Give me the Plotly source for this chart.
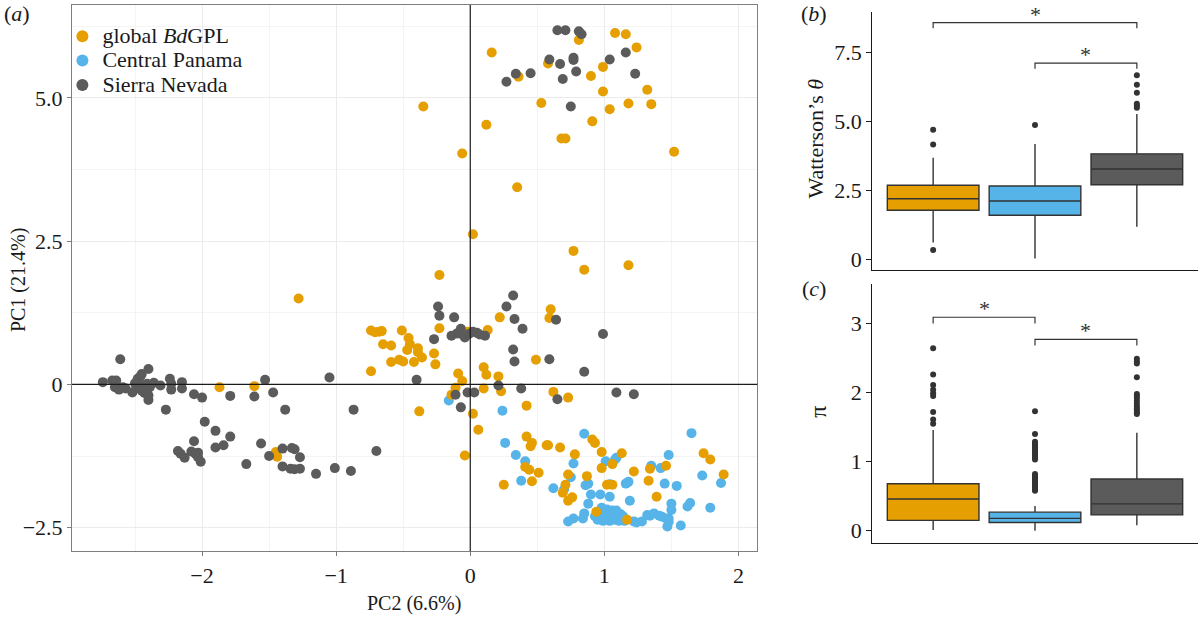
import plotly.graph_objects as go

FONT = "Liberation Serif"
ORANGE = "#E69F00"
BLUE = "#56B4E9"
GRAY = "#5B5B5B"
DARK = "#333333"

group_names = ["global <i>Bd</i>GPL", "Central Panama", "Sierra Nevada"]
group_colors = [ORANGE, BLUE, GRAY]

# ---- Panel (a): PCA scores, (PC2, PC1) pairs ----
global_pts = [
    (1.08, 6.13), (1.16, 6.11), (0.81, 6.01), (1.24, 5.88), (0.16, 5.79), (0.58, 5.60),
    (0.36, 5.37), (0.99, 5.54), (0.90, 5.38), (0.99, 5.11), (1.32, 5.14), (0.53, 4.91),
    (1.18, 4.90), (1.35, 4.89), (1.04, 4.80), (0.91, 4.59), (0.12, 4.53), (0.68, 4.29),
    (0.71, 4.29), (-0.06, 4.03), (1.52, 4.06), (0.35, 3.44), (-0.35, 4.85),
    (0.02, 2.62), (0.77, 2.33), (0.85, 2.00), (1.18, 2.08), (-0.23, 1.91), (-1.28, 1.50),
    (0.60, 1.31), (0.59, 1.16), (0.22, 1.17), (-0.23, 0.98), (0.13, 0.95), (-0.02, 0.92),
    (-0.74, 0.94), (-0.71, 0.91), (-0.68, 0.92), (-0.66, 0.93), (-0.51, 0.94), (-0.46, 0.81),
    (-0.65, 0.70), (-0.59, 0.68), (-0.45, 0.70), (-0.39, 0.63), (-0.47, 0.60), (-0.39, 0.56),
    (-0.36, 0.47), (-0.27, 0.54), (-0.53, 0.43), (-0.50, 0.40), (-0.59, 0.39), (-0.42, 0.39),
    (-0.26, 0.35), (-0.74, 0.23), (0.49, 0.43), (0.10, 0.30), (0.12, 0.17), (0.21, 0.14),
    (-0.09, 0.19), (-0.06, 0.06), (-0.11, -0.06), (-0.14, -0.18), (0.10, -0.07), (0.23, -0.12),
    (0.62, -0.13), (0.73, -0.23), (0.42, -0.37), (-0.38, -0.47), (0.02, -0.51), (-1.87, -0.05),
    (-1.61, -0.03), (-1.45, -1.18), (-1.44, -1.26),
    (0.06, -0.79), (-0.04, -1.24), (0.42, -0.91), (0.46, -1.02), (0.45, -1.08), (0.57, -1.06),
    (0.58, -1.06), (0.67, -1.10), (0.78, -1.22), (0.91, -0.96), (0.93, -1.02), (0.98, -1.18),
    (1.13, -1.20), (1.06, -1.39), (0.98, -1.46), (0.41, -1.44), (0.44, -1.49), (0.51, -1.54),
    (0.46, -1.69), (0.25, -1.75), (0.73, -1.57), (0.71, -1.75), (0.69, -1.89), (0.73, -2.03),
    (0.76, -1.97), (0.87, -1.60), (1.02, -1.75), (1.06, -1.75), (1.22, -1.52), (1.34, -1.47),
    (1.46, -1.42), (1.33, -1.68), (1.39, -1.96), (1.74, -1.20), (1.79, -1.31), (1.89, -1.57),
    (0.94, -2.22), (1.17, -2.36),
]

panama_pts = [
    (-0.16, -0.28), (0.24, -0.46), (0.26, -1.02), (0.34, -1.23), (0.41, -1.34), (0.38, -1.68),
    (0.85, -0.86), (0.77, -1.38), (0.75, -1.62), (0.62, -1.81), (0.70, -1.83), (0.86, -1.76),
    (0.88, -1.73), (0.90, -1.92), (0.97, -1.92), (1.04, -1.96), (1.04, -1.74), (0.88, -2.08),
    (1.01, -1.34), (1.09, -1.28), (1.08, -1.31), (1.16, -1.73), (1.18, -1.70), (1.19, -2.03),
    (1.35, -1.42), (1.42, -1.46), (1.48, -1.23), (1.45, -1.73), (1.54, -1.77), (1.65, -0.85),
    (1.73, -1.59), (1.87, -1.72), (1.79, -2.15), (1.50, -2.08), (1.50, -2.19), (1.62, -2.13),
    (1.64, -2.07), (1.57, -2.46), (1.47, -2.48), (1.48, -2.40), (1.48, -2.34), (0.73, -2.39),
    (0.77, -2.34), (0.85, -2.25), (0.84, -2.34), (1.22, -2.39), (1.24, -2.41), (1.28, -2.39),
    (1.32, -2.28), (1.34, -2.29), (1.37, -2.25), (1.41, -2.29), (1.43, -2.31), (1.46, -2.34),
    (0.93, -2.30), (0.95, -2.36), (0.96, -2.22), (0.97, -2.33), (0.98, -2.15), (0.99, -2.38),
    (1.00, -2.26), (1.01, -2.34), (1.02, -2.18), (1.03, -2.30), (1.04, -2.38), (1.05, -2.24),
    (1.06, -2.33), (1.07, -2.27), (1.08, -2.36), (1.09, -2.20), (1.10, -2.31), (1.11, -2.38),
    (1.12, -2.26), (1.13, -2.33), (1.14, -2.30), (1.15, -2.38), (0.97, -2.28), (1.00, -2.20),
    (1.03, -2.24), (1.06, -2.20), (1.09, -2.28), (1.12, -2.35), (1.00, -2.32), (1.05, -2.36),
]

sierra_pts = [
    (0.65, 6.18), (0.71, 6.18), (0.81, 6.16), (0.83, 6.11), (0.59, 5.67), (0.67, 5.59),
    (0.77, 5.70), (0.77, 5.66), (1.04, 5.67), (1.16, 5.79), (0.34, 5.42), (0.27, 5.28),
    (0.45, 5.43), (0.69, 5.33), (0.79, 5.46), (1.23, 5.42), (0.75, 4.85),
    (0.32, 1.55), (0.27, 1.36), (-0.24, 1.36), (-0.23, 1.20), (-0.12, 1.17), (0.33, 1.14),
    (0.64, 1.13), (0.39, 0.97), (0.99, 0.88), (-0.14, 0.85), (-0.10, 0.89), (-0.07, 0.97),
    (-0.08, 0.89), (-0.04, 0.82), (-0.01, 0.88), (0.02, 0.92), (0.05, 0.90), (0.07, 0.87),
    (0.11, 0.85), (-0.27, 0.79), (0.32, 0.61), (0.33, 0.40), (0.59, 0.44), (0.85, 0.22),
    (-0.40, 0.08), (0.21, -0.02), (0.38, -0.07), (-0.02, -0.14), (0.03, -0.14), (-0.11, -0.18),
    (1.09, -0.14), (1.22, -0.17), (0.65, -0.26), (-0.87, -0.44), (-0.07, -0.40),
    (-2.61, 0.44), (-2.74, 0.04), (-2.67, 0.07), (-2.64, 0.07), (-2.65, -0.05), (-2.62, -0.09),
    (-2.59, -0.05), (-2.57, -0.07), (-2.52, -0.14), (-2.50, 0.02), (-2.48, 0.10), (-2.45, 0.18),
    (-2.46, 0.14), (-2.40, 0.27), (-2.49, -0.05), (-2.46, -0.08), (-2.44, -0.02), (-2.41, 0.01),
    (-2.39, -0.05), (-2.36, 0.03), (-2.43, -0.15), (-2.40, -0.19), (-2.40, -0.27), (-2.45, -0.11),
    (-2.41, -0.11), (-2.31, -0.02), (-2.24, 0.10), (-2.23, 0.01), (-2.23, -0.09), (-2.15, 0.04),
    (-2.15, -0.07), (-2.27, -0.44), (-2.06, -0.17), (-2.00, -0.23), (-1.79, -0.20), (-1.61, -0.21),
    (-1.53, 0.08), (-1.47, -0.14), (-1.38, -0.44), (-1.05, 0.12), (-1.98, -0.65), (-1.90, -0.81),
    (-1.79, -0.91), (-1.90, -1.10), (-1.84, -1.06), (-2.06, -0.99), (-2.18, -1.16), (-2.16, -1.21),
    (-2.13, -1.28), (-2.08, -1.17), (-2.05, -1.21), (-2.03, -1.19), (-2.03, -1.27), (-2.01, -1.35),
    (-1.67, -1.39), (-1.56, -1.03), (-1.50, -1.25), (-1.40, -1.12), (-1.33, -1.11), (-1.31, -1.13),
    (-1.27, -1.27), (-1.40, -1.43), (-1.34, -1.47), (-1.31, -1.48), (-1.27, -1.47), (-1.15, -1.56),
    (-1.01, -1.46), (-0.89, -1.51), (-0.70, -1.16),
]

# ---- Panel (b): Watterson's theta box statistics ----
theta_q1 = [1.77, 1.59, 2.70]
theta_med = [2.19, 2.11, 3.27]
theta_q3 = [2.68, 2.65, 3.82]
theta_lo = [0.60, 0.02, 1.17]
theta_hi = [3.68, 4.18, 5.27]
theta_out = [[4.69, 4.16, 0.33], [4.87], [6.67, 6.33, 6.04, 5.64, 5.57, 5.49]]
theta_brackets = [(0, 2, 8.38, 8.58), (1, 2, 6.91, 7.11)]

# ---- Panel (c): pi box statistics ----
pi_q1 = [0.15, 0.12, 0.23]
pi_med = [0.46, 0.18, 0.39]
pi_q3 = [0.68, 0.27, 0.75]
pi_lo = [0.01, 0.0, 0.08]
pi_hi = [1.46, 0.36, 1.42]
pi_out = [
    [2.64, 2.26, 2.11, 2.04, 1.99, 1.95, 1.72, 1.61, 1.55],
    [1.73, 1.40, 1.29, 1.27, 1.25, 1.23, 1.21, 1.19, 1.17, 1.15, 1.12, 1.09, 1.06, 1.03,
     0.82, 0.80, 0.78, 0.76, 0.74, 0.72, 0.70, 0.68, 0.66, 0.64, 0.62, 0.60, 0.58],
    [2.49, 2.45, 2.42, 2.22, 1.98, 1.95, 1.92, 1.88, 1.84, 1.80, 1.77, 1.74, 1.71, 1.69],
]
pi_brackets = [(0, 1, 3.00, 3.09), (1, 2, 2.68, 2.77)]

fig = go.Figure()

# scatter, drawing order: Panama, global, Sierra
draw = [(1, panama_pts, 2), (0, global_pts, 1), (2, sierra_pts, 3)]
for gi, pts, rank in draw:
    fig.add_trace(go.Scatter(
        x=[p[0] for p in pts], y=[p[1] for p in pts], mode="markers",
        name='<span style="font-size:22px">' + group_names[gi] + "</span>",
        legendrank=rank,
        marker=dict(color=group_colors[gi], size=10, line=dict(width=0)),
        xaxis="x", yaxis="y", hoverinfo="skip",
    ))


def add_boxes(q1, med, q3, lo, hi, outs, brackets, xa, ya):
    for i in range(3):
        fig.add_trace(go.Box(
            x=[i], q1=[q1[i]], median=[med[i]], q3=[q3[i]],
            lowerfence=[lo[i]], upperfence=[hi[i]],
            fillcolor=group_colors[i], line=dict(color=DARK, width=1.4),
            width=0.9, whiskerwidth=0, boxpoints=False, showlegend=False,
            xaxis=xa, yaxis=ya, hoverinfo="skip",
        ))
        fig.add_trace(go.Scatter(
            x=[i] * len(outs[i]), y=outs[i], mode="markers",
            marker=dict(color=DARK, size=6), showlegend=False,
            xaxis=xa, yaxis=ya, hoverinfo="skip",
        ))
    for a, b, low, top in brackets:
        fig.add_trace(go.Scatter(
            x=[a, a, b, b], y=[low, top, top, low], mode="lines",
            line=dict(color=DARK, width=1.2), showlegend=False,
            xaxis=xa, yaxis=ya, hoverinfo="skip",
        ))
        fig.add_annotation(x=(a + b) / 2, y=top, xref=xa, yref=ya, text="*",
                           showarrow=False, xanchor="center", yanchor="bottom", yshift=-6,
                           font=dict(family=FONT, size=22, color=DARK))


add_boxes(theta_q1, theta_med, theta_q3, theta_lo, theta_hi, theta_out, theta_brackets, "x2", "y2")
add_boxes(pi_q1, pi_med, pi_q3, pi_lo, pi_hi, pi_out, pi_brackets, "x3", "y3")

tickfont = dict(family=FONT, size=22, color="#1a1a1a")
grid_major = "#EBEBEB"
grid_minor = "#F4F4F4"

fig.update_layout(
    width=1200, height=617,
    margin=dict(l=0, r=0, t=0, b=0),
    paper_bgcolor="white", plot_bgcolor="white",
    font=dict(family=FONT, size=20, color="#1a1a1a"),
    boxmode="overlay",
    legend=dict(x=0.052, y=1 - 19 / 617, xanchor="left", yanchor="top",
                bgcolor="rgba(0,0,0,0)", font=dict(family=FONT, size=16.5, color="#1a1a1a"),
                tracegroupgap=0, itemsizing="constant"),
    xaxis=dict(domain=[0.06, 0.631], range=[-2.97, 2.14], tickmode="linear", tick0=0, dtick=1,
               showgrid=True, gridcolor=grid_major, gridwidth=1,
               minor=dict(tickmode="linear", tick0=0.5, dtick=1, showgrid=True,
                          gridcolor=grid_minor, gridwidth=1, ticks=""),
               zeroline=False, showline=True, mirror=True, linecolor="#7F7F7F", linewidth=1,
               ticks="outside", ticklen=4, tickcolor="#7F7F7F", tickfont=tickfont),
    yaxis=dict(domain=[0.1037, 0.9919], range=[-2.91, 6.62],
               tickvals=[-2.5, 0, 2.5, 5.0], ticktext=["−2.5", "0", "2.5", "5.0"],
               showgrid=True, gridcolor=grid_major, gridwidth=1,
               minor=dict(tickmode="linear", tick0=1.25, dtick=2.5, showgrid=True,
                          gridcolor=grid_minor, gridwidth=1, ticks=""),
               zeroline=False, showline=True, mirror=True, linecolor="#7F7F7F", linewidth=1,
               ticks="outside", ticklen=4, tickcolor="#7F7F7F", tickfont=tickfont),
    xaxis2=dict(domain=[0.7267, 0.9983], range=[-0.6, 2.6], anchor="y2",
                showticklabels=False, ticks="", showgrid=False, zeroline=False,
                showline=True, linecolor="#1a1a1a", linewidth=1),
    yaxis2=dict(domain=[0.5613, 0.981], range=[-0.39, 8.98], anchor="x2",
                tickvals=[0, 2.5, 5.0, 7.5], ticktext=["0", "2.5", "5.0", "7.5"],
                showgrid=False, zeroline=False, showline=True, linecolor="#1a1a1a", linewidth=1,
                ticks="outside", ticklen=5, tickcolor="#1a1a1a", tickfont=tickfont),
    xaxis3=dict(domain=[0.7267, 0.9983], range=[-0.6, 2.6], anchor="y3",
                showticklabels=False, ticks="", showgrid=False, zeroline=False,
                showline=True, linecolor="#1a1a1a", linewidth=1),
    yaxis3=dict(domain=[0.1167, 0.5381], range=[-0.18, 3.57], anchor="x3",
                tickvals=[0, 1, 2, 3], ticktext=["0", "1", "2", "3"],
                showgrid=False, zeroline=False, showline=True, linecolor="#1a1a1a", linewidth=1,
                ticks="outside", ticklen=5, tickcolor="#1a1a1a", tickfont=tickfont),
)

# reference lines at zero in panel (a)
fig.add_shape(type="line", xref="x", yref="y domain", x0=0, x1=0, y0=0, y1=1,
              line=dict(color="#1a1a1a", width=1.2))
fig.add_shape(type="line", xref="x domain", yref="y", x0=0, x1=1, y0=0, y1=0,
              line=dict(color="#1a1a1a", width=1.2))

# titles and panel labels
txt = dict(family=FONT, size=20, color="#1a1a1a")
txt22 = dict(family=FONT, size=22, color="#1a1a1a")
labels = [
    (18, 281, "PC1 (21.4%)", -90, txt),
    (414, 605, "PC2 (6.6%)", 0, txt),
    (816, 139, "Watterson’s <i>θ</i>", -90, txt22),
    (818, 413, "π", -90, dict(family=FONT, size=24, color="#1a1a1a")),
    (17, 14, "(<i>a</i>)", 0, txt22),
    (814, 14, "(<i>b</i>)", 0, txt22),
    (814, 289, "(<i>c</i>)", 0, txt22),
]
for px, py, text, ang, f in labels:
    fig.add_annotation(x=px / 1200, y=1 - py / 617, xref="paper", yref="paper", text=text,
                       textangle=ang, showarrow=False, xanchor="center", yanchor="middle", font=f)

fig.write_html("out.html", config={"displayModeBar": False},
               post_script="document.body.style.margin='0';document.body.style.overflow='hidden';")
